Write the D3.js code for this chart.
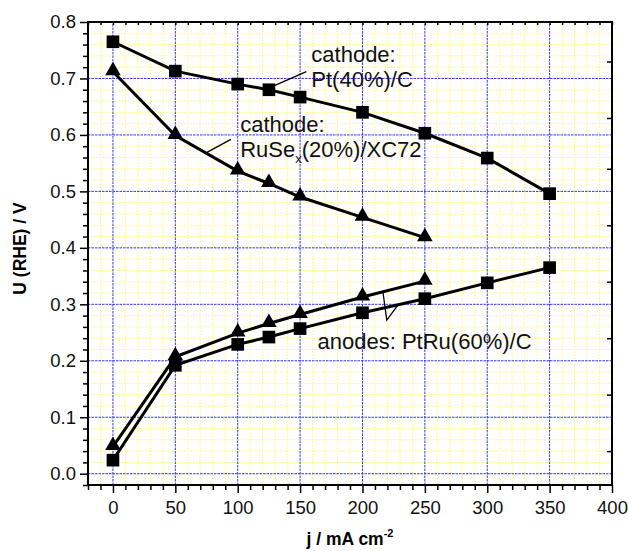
<!DOCTYPE html>
<html lang="en">
<head>
<meta charset="UTF-8" />
<script src="https://d3js.org/d3.v7.min.js"></script>
<style>
  body { margin: 0; background: #fff; }
  svg { font-family: "Liberation Sans", Arial, sans-serif; }
</style>
</head>
<body>
<script>
var w = 629;
var h = 551;

// current density, mA cm-2
var jPt = [0, 50, 100, 125, 150, 200, 250, 300, 350];
var jRu = [0, 50, 100, 125, 150, 200, 250];

// cell potentials vs RHE, V
var cathodePt = [0.765, 0.713, 0.690, 0.680, 0.667, 0.640, 0.603, 0.559, 0.496];
var cathodeRu = [0.712, 0.599, 0.536, 0.514, 0.490, 0.454, 0.418];
var anodePt = [0.024, 0.192, 0.229, 0.242, 0.257, 0.285, 0.310, 0.338, 0.365];
var anodeRu = [0.048, 0.207, 0.249, 0.266, 0.282, 0.313, 0.341];

var xTicks = [0, 50, 100, 150, 200, 250, 300, 350, 400];
var yTicks = [0.0, 0.1, 0.2, 0.3, 0.4, 0.5, 0.6, 0.7, 0.8];

var margin = { top: 22, right: 17, bottom: 66, left: 88 };

var x = d3.scaleLinear().domain([-20, 400]).range([margin.left, w - margin.right]);
var y = d3.scaleLinear().domain([-0.02, 0.8]).range([h - margin.bottom, margin.top]);

var svg = d3.select("body").append("svg").attr("width", w).attr("height", h);

var x0 = x.range()[0], x1 = x.range()[1];
var y0 = y.range()[0], y1 = y.range()[1];

// minor grid (yellow)
var xMinor = d3.range(-20, 401, 10).filter(function (d) { return d % 50 !== 0; });
var yMinor = d3.range(-0.02, 0.801, 0.02).filter(function (d) { return Math.abs(d * 10 - Math.round(d * 10)) > 0.01; });

svg.append("g").selectAll("line").data(xMinor).enter().append("line")
  .attr("x1", function (d) { return x(d); }).attr("x2", function (d) { return x(d); })
  .attr("y1", y0).attr("y2", y1)
  .attr("stroke", "#fbfb6a").attr("stroke-width", 1).attr("stroke-dasharray", "1.5,1.5");
svg.append("g").selectAll("line").data(yMinor).enter().append("line")
  .attr("y1", function (d) { return y(d); }).attr("y2", function (d) { return y(d); })
  .attr("x1", x0).attr("x2", x1)
  .attr("stroke", "#fbfb6a").attr("stroke-width", 1).attr("stroke-dasharray", "1.5,1.5");

// major grid (blue)
svg.append("g").selectAll("line").data(xTicks.slice(0, -1)).enter().append("line")
  .attr("x1", function (d) { return x(d); }).attr("x2", function (d) { return x(d); })
  .attr("y1", y0).attr("y2", y1)
  .attr("stroke", "#3535f5").attr("stroke-width", 1).attr("stroke-dasharray", "2.5,1");
svg.append("g").selectAll("line").data(yTicks).enter().append("line")
  .attr("y1", function (d) { return y(d); }).attr("y2", function (d) { return y(d); })
  .attr("x1", x0).attr("x2", x1)
  .attr("stroke", "#3535f5").attr("stroke-width", 1).attr("stroke-dasharray", "2.5,1");

// axes
var tickFont = "18.5px";
svg.append("g").attr("transform", "translate(0," + y0 + ")")
  .call(d3.axisBottom(x).tickValues(xTicks).tickSize(8).tickPadding(8).tickFormat(d3.format("d")));
svg.append("g").attr("transform", "translate(0," + y0 + ")")
  .call(d3.axisBottom(x).tickValues(xMinor).tickSize(5).tickFormat(""));
svg.append("g").attr("transform", "translate(0," + y1 + ")")
  .call(d3.axisBottom(x).tickValues(d3.range(-20, 401, 10)).tickSize(3).tickFormat(""));

svg.append("g").attr("transform", "translate(" + x0 + ",0)")
  .call(d3.axisLeft(y).tickValues(yTicks).tickSize(8).tickPadding(4).tickFormat(d3.format(".1f")));
svg.append("g").attr("transform", "translate(" + x0 + ",0)")
  .call(d3.axisLeft(y).tickValues(yMinor).tickSize(5).tickFormat(""));
svg.append("g").attr("transform", "translate(" + x1 + ",0)")
  .call(d3.axisLeft(y).tickValues([0.04, 0.14, 0.24, 0.34, 0.44, 0.54, 0.63, 0.73]).tickSize(5).tickFormat(""));

svg.selectAll(".domain").remove();
svg.selectAll(".tick line").attr("stroke", "#000").attr("stroke-width", 1.5);
svg.selectAll(".tick text").attr("font-size", tickFont).attr("fill", "#111")
  .attr("font-family", "Liberation Sans, Arial, sans-serif");

// frame
svg.append("rect").attr("x", x0).attr("y", y1).attr("width", x1 - x0).attr("height", y0 - y1)
  .attr("fill", "none").attr("stroke", "#000").attr("stroke-width", 2);

// series
var series = [
  { j: jPt, u: cathodePt, marker: "square" },
  { j: jRu, u: cathodeRu, marker: "triangle" },
  { j: jPt, u: anodePt, marker: "square" },
  { j: jRu, u: anodeRu, marker: "triangle" }
];

var line = d3.line().x(function (d) { return x(d[0]); }).y(function (d) { return y(d[1]); });

series.forEach(function (s) {
  var pts = s.j.map(function (v, i) { return [v, s.u[i]]; });
  svg.append("path").datum(pts).attr("d", line)
    .attr("fill", "none").attr("stroke", "#000").attr("stroke-width", 3);
  var sym = s.marker === "square"
    ? d3.symbol().type(d3.symbolSquare).size(160)
    : d3.symbol().type(d3.symbolTriangle).size(105);
  svg.append("g").selectAll("path").data(pts).enter().append("path")
    .attr("d", sym)
    .attr("transform", function (d) {
      return "translate(" + x(d[0]) + "," + (y(d[1]) + (s.marker === "triangle" ? -1 : 0)) + ")";
    })
    .attr("fill", "#000");
});

// annotations
var labelFont = "22px";
var annotations = [
  { lines: ["cathode:", "Pt(40%)/C"], x: 159, y: 0.729 },
  { lines: ["cathode:", "RuSe|x|(20%)/XC72"], x: 102, y: 0.606 },
  { lines: ["anodes: PtRu(60%)/C"], x: 164, y: 0.22 }
];
var leaders = [
  [[128, 0.686], [155, 0.712]],
  [[73.5, 0.567], [94.5, 0.592]],
  [[216.5, 0.320], [219.5, 0.272], [228.5, 0.299]]
];

annotations.forEach(function (a) {
  a.lines.forEach(function (t, i) {
    var txt = svg.append("text")
      .attr("x", x(a.x)).attr("y", y(a.y) + i * 25)
      .attr("font-size", labelFont).attr("fill", "#111");
    var parts = t.split("|");
    txt.append("tspan").text(parts[0]);
    if (parts.length > 1) {
      txt.append("tspan").attr("font-size", "13px").attr("dy", 6).text(parts[1]);
      txt.append("tspan").attr("dy", -6).text(parts[2]);
    }
  });
});

svg.append("g").selectAll("path").data(leaders).enter().append("path")
  .attr("d", line).attr("fill", "none").attr("stroke", "#000").attr("stroke-width", 1.3);

// axis titles
svg.append("text")
  .attr("transform", "translate(26," + ((y0 + y1) / 2 - 5) + ") rotate(-90)")
  .attr("text-anchor", "middle").attr("font-size", "17.5px").attr("font-weight", "bold")
  .text("U (RHE) / V");

var xt = svg.append("text")
  .attr("x", (x0 + x1) / 2).attr("y", 545)
  .attr("text-anchor", "middle").attr("font-size", "17.5px").attr("font-weight", "bold");
xt.append("tspan").text("j / mA cm");
xt.append("tspan").attr("font-size", "11px").attr("dy", -8).text("-2");
</script>
</body>
</html>
